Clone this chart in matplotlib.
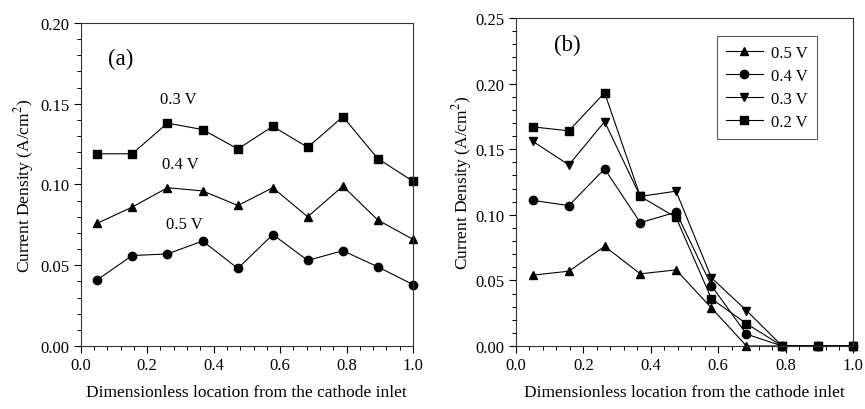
import matplotlib
matplotlib.use("Agg")
import matplotlib.pyplot as plt
from matplotlib.ticker import MultipleLocator

plt.rcParams['font.family'] = ['Liberation Serif', 'DejaVu Serif']
plt.rcParams['mathtext.fontset'] = 'stix'

# Panel (a) data
x_a = [0.05, 0.155, 0.261, 0.367, 0.473, 0.578, 0.683, 0.789, 0.894, 1.0]
a_03V = [0.119, 0.119, 0.138, 0.134, 0.122, 0.136, 0.123, 0.142, 0.116, 0.102]
a_04V = [0.076, 0.086, 0.098, 0.096, 0.087, 0.098, 0.080, 0.099, 0.078, 0.066]
a_05V = [0.041, 0.056, 0.057, 0.065, 0.048, 0.069, 0.053, 0.059, 0.049, 0.038]

# Panel (b) data
x_b = [0.05, 0.157, 0.263, 0.369, 0.475, 0.58, 0.684, 0.79, 0.895, 1.0]
b_05V = [0.054, 0.057, 0.076, 0.055, 0.058, 0.029, 0.000, 0.0, 0.0, 0.0]
b_04V = [0.111, 0.107, 0.135, 0.094, 0.102, 0.046, 0.009, 0.0, 0.0, 0.0]
b_03V = [0.156, 0.138, 0.171, 0.114, 0.118, 0.052, 0.027, 0.0, 0.0, 0.0]
b_02V = [0.167, 0.164, 0.193, 0.114, 0.098, 0.036, 0.017, 0.0, 0.0, 0.0]

xlabel = "Dimensionless location from the cathode inlet"
ylabel = r"Current Density (A/cm$^2$)"

fig = plt.figure(figsize=(8.65, 4.1), dpi=100)
ax1 = fig.add_axes([0.0933, 0.1537, 0.3842, 0.7878])
ax2 = fig.add_axes([0.5965, 0.1537, 0.3896, 0.8000])

lw = 0.8
ms = 6
kw = dict(color='black', lw=lw, clip_on=False)

ax1.plot(x_a, a_03V, marker='s', ms=ms - 0.5, **kw)
ax1.plot(x_a, a_04V, marker='^', ms=ms, **kw)
ax1.plot(x_a, a_05V, marker='o', ms=ms, **kw)

ax2.plot(x_b, b_05V, marker='^', ms=ms, label='0.5 V', **kw)
ax2.plot(x_b, b_04V, marker='o', ms=ms, label='0.4 V', **kw)
ax2.plot(x_b, b_03V, marker='v', ms=ms, label='0.3 V', **kw)
ax2.plot(x_b, b_02V, marker='s', ms=ms - 0.5, label='0.2 V', **kw)

for ax, ymax in ((ax1, 0.20), (ax2, 0.25)):
    ax.set_xlim(0.0, 1.0)
    ax.set_ylim(0.0, ymax)
    ax.xaxis.set_major_locator(MultipleLocator(0.2))
    ax.xaxis.set_minor_locator(MultipleLocator(0.04))
    ax.yaxis.set_major_locator(MultipleLocator(0.05))
    ax.yaxis.set_minor_locator(MultipleLocator(0.01))
    ax.xaxis.set_major_formatter(plt.FormatStrFormatter('%.1f'))
    ax.yaxis.set_major_formatter(plt.FormatStrFormatter('%.2f'))
    ax.tick_params(which='major', direction='out', length=5, width=0.8,
                   labelsize=12, pad=3, top=False, right=False)
    ax.tick_params(which='minor', direction='out', length=3, width=0.7,
                   top=False, right=False)
    for s in ax.spines.values():
        s.set_linewidth(0.8)
        s.set_color('#333333')
    ax.set_xlabel(xlabel, fontsize=12.5, labelpad=8)

ax1.set_ylabel(ylabel, fontsize=12.5, labelpad=3)
ax2.set_ylabel(ylabel, fontsize=12.5, labelpad=1.5)

ax1.text(0.12, 0.178, "(a)", fontsize=16.5, ha='center', va='center')
ax1.text(0.293, 0.153, "0.3 V", fontsize=12, ha='center', va='center')
ax1.text(0.300, 0.1127, "0.4 V", fontsize=12, ha='center', va='center')
ax1.text(0.311, 0.0755, "0.5 V", fontsize=12, ha='center', va='center')

ax2.text(0.151, 0.230, "(b)", fontsize=16.5, ha='center', va='center')

leg = ax2.legend(loc='upper right', bbox_to_anchor=(0.893, 0.945), fontsize=12,
                 frameon=True, fancybox=False, edgecolor='#333333',
                 handlelength=2.2, handletextpad=0.5, borderpad=0.55,
                 labelspacing=0.42, borderaxespad=0.0)
leg.get_frame().set_linewidth(0.8)

fig.savefig("out.png", dpi=100)
